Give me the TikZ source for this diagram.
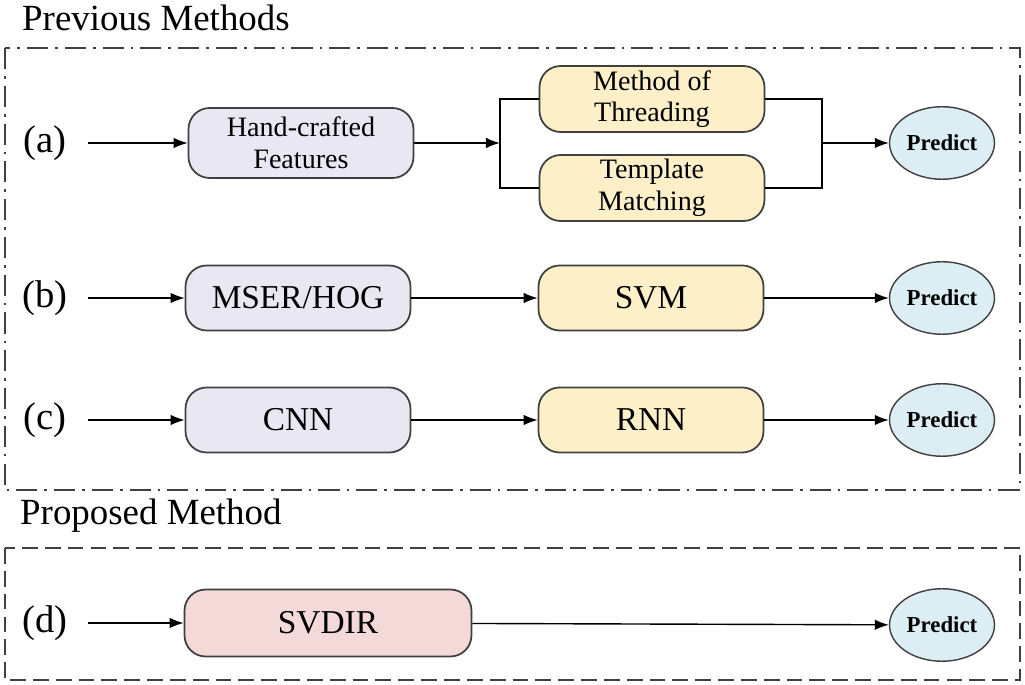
\documentclass[tikz,border=0pt]{standalone}
\usepackage{fontspec}
\setmainfont{Liberation Serif}
\usetikzlibrary{arrows.meta,shapes.geometric}
\definecolor{FeatClr}{HTML}{E9E8F2}
\definecolor{ClsClr}{HTML}{FDEFC7}
\definecolor{OursClr}{HTML}{F3DAD8}
\definecolor{PredClr}{HTML}{DCEEF4}
\tikzset{
  blk/.style={draw=black!75,line width=1pt,rounded corners=12pt,minimum height=1.3cm,align=center,font=\fontsize{16}{18}\selectfont,inner sep=0pt},
  big/.style={font=\fontsize{19}{21}\selectfont},
  pred/.style={ellipse,draw=black!75,line width=0.8pt,fill=PredClr,minimum width=2.1cm,minimum height=1.45cm,font=\bfseries\fontsize{13}{15}\selectfont,inner sep=0pt},
  lbl/.style={font=\fontsize{22}{24}\selectfont},
  ttl/.style={font=\fontsize{21}{23}\selectfont,anchor=west},
  arr/.style={-{Latex[length=8pt,width=6pt]},line width=0.8pt},
  ln/.style={line width=0.8pt}
}
\begin{document}
\begin{tikzpicture}[x=0.02cm,y=-0.02cm]
\useasboundingbox[fill=white] (0,0) rectangle (1025,685);

% previous methods
\node[ttl] (t1) at (16,18) {Previous Methods};
\draw[line width=1pt,black!75,dash pattern=on 12pt off 4pt on 1.5pt off 4pt] (5,48) rectangle (1020,490);

% row a
\node[lbl] (la) at (45,143) {(a)};
\coordinate (sa) at (88,143);
\node[blk,fill=FeatClr,minimum width=4.5cm,minimum height=1.4cm] (hand) at (301,143) {Hand-crafted\\Features};
\node[blk,fill=ClsClr,minimum width=4.5cm,minimum height=1.32cm] (thr) at (652,99) {Method of\\Threading};
\node[blk,fill=ClsClr,minimum width=4.5cm,minimum height=1.32cm] (tmp) at (652,188) {Template\\Matching};
\coordinate (bl) at (500,143);
\coordinate (br) at (822,143);
\node[pred] (pa) at (942,143) {Predict};
\draw[arr] (sa) -- (hand);
\draw[arr] (hand) -- (bl);
\draw[ln] (thr.west) -- (500,99) -- (500,188) -- (tmp.west);
\draw[ln] (thr.east) -- (822,99) -- (822,188) -- (tmp.east);
\draw[arr] (br) -- (pa);

% row b
\node[lbl] (lb) at (45,298) {(b)};
\coordinate (sb) at (88,298);
\node[blk,big,fill=FeatClr,minimum width=4.5cm] (mser) at (298,298) {MSER/HOG};
\node[blk,big,fill=ClsClr,minimum width=4.5cm] (svm) at (651,298) {SVM};
\node[pred] (pb) at (942,298) {Predict};
\draw[arr] (sb) -- (mser);
\draw[arr] (mser) -- (svm);
\draw[arr] (svm) -- (pb);

% row c
\node[lbl] (lc) at (45,420) {(c)};
\coordinate (sc) at (88,420);
\node[blk,big,fill=FeatClr,minimum width=4.5cm] (cnn) at (298,420) {CNN};
\node[blk,big,fill=ClsClr,minimum width=4.5cm] (rnn) at (651,420) {RNN};
\node[pred] (pc) at (942,420) {Predict};
\draw[arr] (sc) -- (cnn);
\draw[arr] (cnn) -- (rnn);
\draw[arr] (rnn) -- (pc);

% proposed method
\node[ttl] (t2) at (14,516) {Proposed Method};
\draw[line width=1pt,black!75,dash pattern=on 9pt off 4pt] (5,548) rectangle (1020,680);

\node[lbl] (ld) at (45,623) {(d)};
\coordinate (sd) at (88,623);
\node[blk,big,fill=OursClr,minimum width=5.74cm,minimum height=1.34cm] (ours) at (328,623) {SVDIR};
\node[pred] (pd) at (942,625) {Predict};
\draw[arr] (sd) -- (ours);
\draw[arr] (ours) -- (pd);
\end{tikzpicture}
\end{document}
